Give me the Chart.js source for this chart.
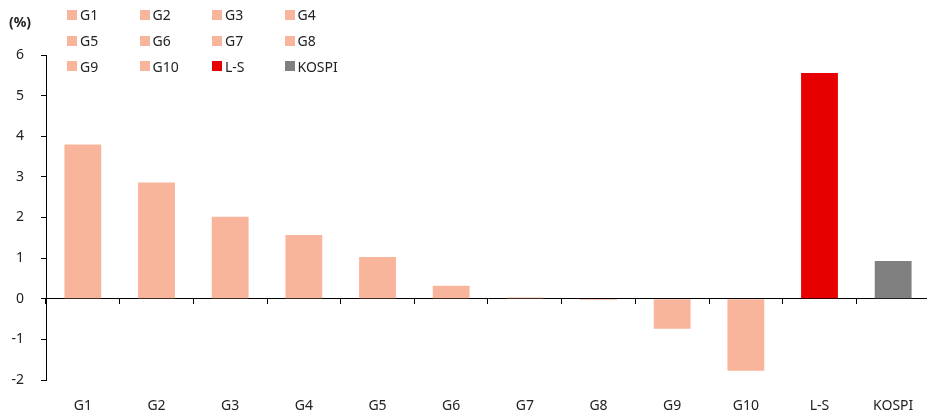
<!DOCTYPE html>
<html>
<head>
<meta charset="utf-8">
<script src="https://cdn.jsdelivr.net/npm/chart.js@4/dist/chart.umd.min.js"></script>
<style>
  html, body { margin: 0; padding: 0; background: #fff; overflow: hidden; }
  #wrap { position: relative; width: 927px; height: 414px; overflow: hidden; font-family: "Noto Sans", sans-serif; }
  #barChart { display: block; }
  #unit { position: absolute; left: 9px; top: 12px; font-size: 14px; font-weight: bold; color: #222; }
  #legend { position: absolute; left: 67px; top: 2px; display: grid; grid-template-columns: repeat(4, 72.5px); grid-auto-rows: 25.7px; }
  .item { display: flex; align-items: center; font-size: 14px; color: #222; }
  .box { width: 10px; height: 10px; margin-right: 3px; }
</style>
</head>
<body>
<div id="wrap">
  <canvas id="barChart" width="930" height="414"></canvas>
  <div id="unit">(%)</div>
  <div id="legend"></div>
</div>
<script>
// Datos
const labels = ['G1', 'G2', 'G3', 'G4', 'G5', 'G6', 'G7', 'G8', 'G9', 'G10', 'L-S', 'KOSPI'];
const values = [3.80, 2.86, 2.02, 1.57, 1.03, 0.32, 0.03, -0.03, -0.74, -1.77, 5.56, 0.93];
const colors = ['#F9B59B', '#F9B59B', '#F9B59B', '#F9B59B', '#F9B59B', '#F9B59B',
                '#F9B59B', '#F9B59B', '#F9B59B', '#F9B59B', '#E60000', '#808080'];
const yTicks = [-2, -1, 0, 1, 2, 3, 4, 5, 6];

// Leyenda
const legend = document.getElementById('legend');
labels.forEach((l, i) => {
    const item = document.createElement('div');
    item.className = 'item';
    item.innerHTML = '<span class="box" style="background:' + colors[i] + '"></span>' + l;
    legend.appendChild(item);
});

const font = { family: '"Noto Sans", sans-serif', size: 14 };

const ctx = document.getElementById('barChart').getContext('2d');
const barChart = new Chart(ctx, {
    type: 'bar',
    data: {
        labels: labels,
        datasets: [{
            data: values,
            backgroundColor: colors,
            categoryPercentage: 0.5,
            barPercentage: 1
        }]
    },
    options: {
        responsive: false,
        animation: false,
        layout: { padding: { top: 55, left: 0, right: 0, bottom: 0 } },
        plugins: {
            legend: { display: false },
            tooltip: { enabled: false }
        },
        scales: {
            x: {
                grid: { display: false },
                border: { display: false },
                ticks: { color: '#222', font: font, padding: 10, maxRotation: 0 },
                afterFit: s => { s.height = 34; }
            },
            x2: {
                type: 'category',
                labels: labels,
                position: { y: 0 },
                offset: true,
                grid: { offset: true, drawOnChartArea: false, drawTicks: true, tickLength: 5, color: '#000' },
                border: { display: true, color: '#000', width: 1 },
                ticks: { display: false },
                afterFit: s => { s.height = 0; }
            },
            y: {
                min: -2,
                max: 6,
                afterBuildTicks: s => { s.ticks = yTicks.map(v => ({ value: v })); },
                grid: { drawOnChartArea: false, drawTicks: true, tickLength: 5, color: '#000' },
                border: { display: true, color: '#000', width: 1 },
                ticks: { color: '#222', font: font, padding: 17 },
                afterFit: s => { s.width = 46; }
            }
        }
    }
});
</script>
</body>
</html>
